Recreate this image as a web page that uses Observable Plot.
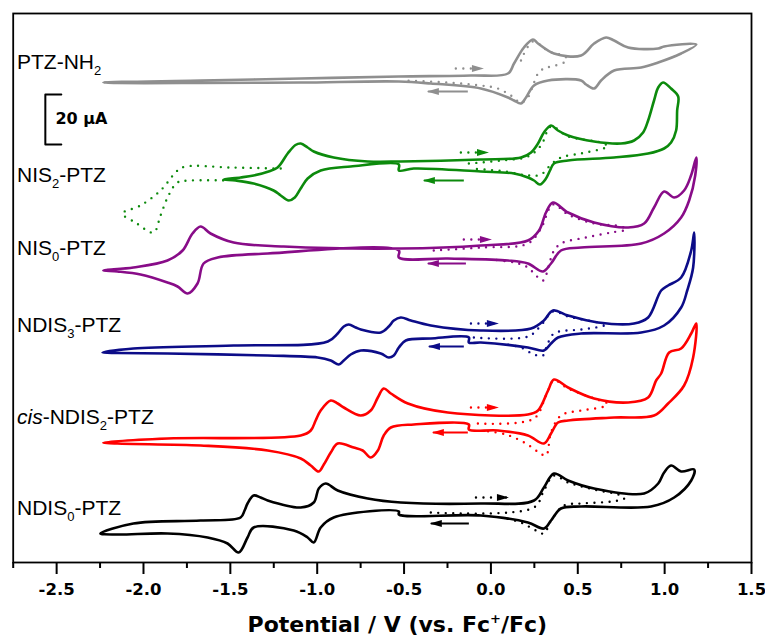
<!DOCTYPE html>
<html><head><meta charset="utf-8">
<script src="https://cdn.jsdelivr.net/npm/d3@7"></script>
<script src="https://cdn.jsdelivr.net/npm/@observablehq/plot@0.6"></script>
<style>html,body{margin:0;padding:0;background:#fff;} svg{display:block;background:#fff}</style>
</head><body><div id="chart"></div>
<script>
// ---------- axis / scale values ----------
const xDomain = [-2.75, 1.5];          // Potential / V
const yDomain = [0, 219.6];            // stacked current, µA (offset)
const majorTicks = [-2.5, -2.0, -1.5, -1.0, -0.5, 0.0, 0.5, 1.0, 1.5];
const minorTicks = [-2.75, -2.25, -1.75, -1.25, -0.75, -0.25, 0.25, 0.75, 1.25];
const xTitle = "Potential / V (vs. Fc^+/Fc)";

// ---------- compounds ----------
const compoundNames = ["PTZ-NH_2", "NIS_2-PTZ", "NIS_0-PTZ", "NDIS_3-PTZ", "*cis*-NDIS_2-PTZ", "NDIS_0-PTZ"];
const compoundColors = ["#8f8f8f", "#0c8a0c", "#880c88", "#0c0c88", "#ff0000", "#000000"];
const labelX = -2.728;
const labelY = [200.0, 155.0, 125.8, 94.8, 58.0, 21.8];

// ---------- CV loops [V, µA] (forward branch then reverse branch) ----------
const ptzNH2Scan = [
[-2.231,192.0],[-1.671,192.8],[-1.095,193.6],[-0.530,194.4],[-0.115,194.8],[0.098,195.6],[0.133,199.6],[0.190,206.0],[0.242,209.2],[0.271,207.6],[0.363,203.6],[0.519,202.8],[0.594,207.6],[0.663,210.0],[0.709,208.8],[0.790,206.0],[0.963,205.6],[0.997,206.4],[1.182,207.2],
[1.095,203.6],[0.963,200.0],[0.865,198.0],[0.709,196.8],[0.634,192.8],[0.594,189.6],[0.548,191.2],[0.519,192.8],[0.329,192.8],[0.248,190.8],[0.202,186.0],[0.173,183.6],[0.133,184.8],[0.098,186.0],[-0.058,189.6],[-0.346,191.6],[-0.530,192.4],[-1.095,192.0],[-1.671,191.8],[-2.150,191.8]];
const ptzNH2First = [
[0.173,200.8],[0.242,208.4],[0.334,204.4],[0.415,202.8],[0.438,201.6],[0.421,200.0],[0.346,198.4],[0.305,197.6],[0.271,195.6],[0.242,190.8],[0.213,186.0],[0.173,184.0],[0.115,186.8],[0.040,189.6],[-0.058,190.8],[-0.248,192.0],[-0.501,192.8]];

const nis2Scan = [
[-1.539,153.2],[-1.441,154.0],[-1.366,154.8],[-1.280,156.4],[-1.228,158.0],[-1.170,163.6],[-1.125,167.0],[-1.095,167.6],[-1.055,166.0],[-1.020,164.4],[-0.905,162.0],[-0.709,160.4],[-0.519,160.4],[-0.058,161.2],[0.173,162.0],[0.231,164.0],[0.271,167.6],[0.305,172.0],[0.346,174.8],[0.386,172.8],[0.444,170.8],[0.594,168.4],[0.749,167.6],[0.824,168.8],[0.876,172.0],[0.905,176.8],[0.939,184.8],[0.963,190.0],[0.991,192.0],[1.037,189.6],[1.078,186.4],
[1.072,180.8],[1.066,172.8],[1.037,168.0],[0.997,165.6],[0.905,163.6],[0.709,162.0],[0.444,160.8],[0.363,159.6],[0.340,156.8],[0.317,153.6],[0.282,151.2],[0.248,152.8],[0.213,154.0],[0.133,155.6],[-0.058,156.4],[-0.444,157.6],[-0.530,156.8],[-0.530,159.2],[-0.807,158.4],[-0.980,156.8],[-1.055,153.6],[-1.095,149.6],[-1.129,146.0],[-1.164,144.8],[-1.210,146.8],[-1.251,148.8],[-1.366,151.6],[-1.470,152.8]];
const nis2FirstA = [
[-1.210,157.6],[-1.499,158.0],[-1.758,158.4],[-1.804,156.8],[-1.902,148.8],[-2.017,142.8],[-2.121,139.6],[-2.046,136.0],[-1.942,132.0],[-1.902,138.8],[-1.856,146.8],[-1.804,152.0],[-1.729,152.8],[-1.516,152.8]];
const nis2FirstB = [
[-0.127,159.6],[0.058,160.8],[0.213,162.4],[0.288,166.8],[0.346,174.4],[0.444,170.4],[0.634,168.0],[0.674,166.4],[0.646,165.6],[0.519,163.6],[0.403,162.0],[0.346,159.2],[0.288,155.2],[0.213,154.8],[0.086,156.4],[-0.115,157.6]];

const nis0Scan = [
[-2.231,116.8],[-2.058,118.0],[-1.862,120.8],[-1.775,124.8],[-1.718,131.6],[-1.671,134.4],[-1.614,131.6],[-1.481,128.0],[-1.193,126.4],[-0.519,125.6],[-0.058,126.8],[0.213,128.8],[0.277,132.8],[0.317,140.0],[0.357,144.0],[0.444,140.0],[0.594,136.0],[0.790,134.0],[0.882,135.6],[0.939,142.0],[0.997,148.4],[1.055,146.0],[1.112,148.8],[1.153,155.0],[1.182,162.0],
[1.176,154.8],[1.141,144.8],[1.095,138.0],[0.997,131.6],[0.865,127.6],[0.519,126.0],[0.403,124.8],[0.346,119.6],[0.300,116.4],[0.213,119.6],[0.098,120.8],[-0.248,121.6],[-0.530,122.0],[-0.530,124.8],[-1.285,123.6],[-1.573,122.0],[-1.654,119.6],[-1.689,111.6],[-1.746,107.6],[-1.804,110.4],[-1.862,112.0],[-2.017,115.2],[-2.150,116.4]];
const nis0First = [
[-0.329,124.8],[-0.058,126.0],[0.213,127.6],[0.288,133.6],[0.357,143.2],[0.444,139.2],[0.594,135.6],[0.749,134.4],[0.778,133.2],[0.692,132.0],[0.548,130.0],[0.403,127.6],[0.357,124.0],[0.334,118.8],[0.300,112.8],[0.259,114.8],[0.213,118.0],[0.133,120.0],[0.000,121.2]];

const ndis3Scan = [
[-2.236,84.0],[-2.058,85.6],[-1.481,86.8],[-0.939,88.4],[-0.882,91.6],[-0.847,94.4],[-0.818,95.2],[-0.778,94.0],[-0.749,93.2],[-0.634,92.0],[-0.588,94.4],[-0.559,96.8],[-0.519,98.0],[-0.461,96.8],[-0.346,94.8],[-0.058,92.8],[0.231,93.6],[0.305,96.8],[0.357,100.8],[0.444,98.8],[0.617,96.0],[0.824,95.6],[0.905,98.0],[0.980,108.8],[1.020,110.8],[1.095,114.0],[1.153,124.8],[1.170,132.0],
[1.164,118.0],[1.130,108.8],[1.095,102.0],[0.997,94.8],[0.865,92.0],[0.519,91.6],[0.386,90.0],[0.346,87.6],[0.305,84.8],[0.213,86.0],[-0.058,88.0],[-0.127,88.0],[-0.127,90.0],[-0.346,89.6],[-0.490,88.8],[-0.530,86.0],[-0.559,82.8],[-0.588,82.0],[-0.634,83.6],[-0.749,84.8],[-0.807,83.2],[-0.847,80.8],[-0.876,79.2],[-0.922,80.8],[-0.997,82.0],[-1.285,82.8],[-1.862,83.6],[-2.150,83.8]];
const ndis3First = [
[-0.098,90.0],[0.213,90.4],[0.288,94.8],[0.357,100.4],[0.444,98.4],[0.617,96.0],[0.669,95.2],[0.634,94.4],[0.519,93.2],[0.363,91.6],[0.323,86.8],[0.300,82.8],[0.248,83.2],[0.173,86.0],[0.058,87.6]];

const cisScan = [
[-2.231,48.0],[-1.862,49.6],[-1.095,50.8],[-1.037,52.8],[-1.009,56.8],[-0.980,60.8],[-0.922,64.8],[-0.882,63.6],[-0.847,62.0],[-0.749,58.8],[-0.692,60.8],[-0.651,66.0],[-0.617,69.6],[-0.576,67.6],[-0.478,63.6],[-0.248,60.0],[0.213,59.2],[0.271,60.8],[0.329,68.8],[0.363,73.2],[0.444,70.0],[0.594,65.6],[0.790,64.0],[0.905,66.0],[0.951,72.8],[0.980,75.6],[1.026,84.0],[1.095,85.6],[1.153,91.6],[1.182,95.6],
[1.164,82.0],[1.112,70.8],[1.020,63.6],[0.939,58.8],[0.709,58.0],[0.444,56.8],[0.386,56.0],[0.346,51.6],[0.305,47.6],[0.213,50.8],[0.040,52.8],[-0.127,53.2],[-0.127,55.2],[-0.444,55.2],[-0.576,54.0],[-0.617,50.8],[-0.651,44.8],[-0.692,42.0],[-0.738,44.8],[-0.790,46.0],[-0.882,47.6],[-0.922,44.0],[-0.962,39.2],[-0.991,36.4],[-1.037,38.8],[-1.095,41.6],[-1.285,44.8],[-1.671,46.8],[-2.150,47.6]];
const cisFirst = [
[-0.075,55.6],[0.248,57.6],[0.317,66.8],[0.363,72.8],[0.444,69.6],[0.594,65.6],[0.669,63.6],[0.651,62.4],[0.519,60.8],[0.403,58.8],[0.346,52.0],[0.317,42.8],[0.277,44.0],[0.202,47.6],[0.086,51.2],[-0.058,52.8]];

const ndis0Scan = [
[-2.248,11.6],[-2.058,15.6],[-1.671,16.8],[-1.441,18.0],[-1.418,20.8],[-1.401,23.6],[-1.366,26.8],[-1.326,26.0],[-1.285,24.8],[-1.095,22.0],[-1.020,24.0],[-0.991,29.6],[-0.951,31.6],[-0.882,28.8],[-0.709,25.6],[-0.519,24.0],[-0.058,23.6],[0.248,24.8],[0.305,30.0],[0.363,35.6],[0.444,32.8],[0.594,29.6],[0.882,27.6],[0.963,31.6],[0.997,36.0],[1.037,38.8],[1.095,36.4],[1.170,37.2],
[1.153,32.8],[1.055,26.0],[0.922,22.4],[0.519,22.4],[0.403,21.6],[0.346,16.8],[0.305,13.6],[0.213,16.0],[-0.058,18.8],[-0.530,19.2],[-0.530,20.4],[-0.905,18.0],[-0.980,14.0],[-1.020,8.0],[-1.055,10.0],[-1.135,12.8],[-1.366,14.0],[-1.401,10.0],[-1.452,4.0],[-1.516,7.6],[-1.631,10.0],[-1.862,11.6],[-2.150,11.2]];
const ndis0First = [
[-0.346,20.0],[0.248,22.0],[0.305,28.8],[0.363,34.8],[0.444,32.0],[0.594,29.2],[0.749,26.8],[0.767,25.6],[0.692,24.4],[0.519,23.6],[0.421,22.8],[0.346,16.8],[0.305,11.6],[0.259,12.8],[0.173,16.0],[0.086,17.6]];

// ---------- scan-direction arrows (V, µA) ----------
const arrowDottedFrom = [-0.202, -0.173, -0.156, -0.115, -0.115, -0.086];
const arrowDottedTo   = [-0.046, -0.017,  0.000,  0.040,  0.040,  0.098];
const arrowDottedY    = [197.6, 164.0, 129.2, 95.6, 62.0, 26.0];
const arrowSolidFrom  = [-0.133, -0.156, -0.144, -0.156, -0.133, -0.127];
const arrowSolidTo    = [-0.363, -0.386, -0.363, -0.357, -0.334, -0.346];
const arrowSolidY     = [188.4, 152.8, 119.6, 86.4, 52.0, 15.6];

// ---------- scale bar ----------
const scaleBarX = -2.565, scaleBarTickEnd = -2.473, scaleBarTop = 187.2, scaleBarSpan = 20;
const scaleBarText = "20 µA", scaleBarTextX = -2.507, scaleBarTextY = 177.6;

// ---------- build ----------
const scans = [ptzNH2Scan, nis2Scan, nis0Scan, ndis3Scan, cisScan, ndis0Scan];
const firsts = [[ptzNH2First], [nis2FirstA, nis2FirstB], [nis0First], [ndis3First], [cisFirst], [ndis0First]];

const arrowHead = {draw(ctx) { ctx.moveTo(1, 0); ctx.lineTo(-11, -3.6); ctx.lineTo(-11, 3.6); ctx.closePath(); }};
const X = d => d[0], Y = d => d[1];

const marks = [Plot.frame({stroke: "black", strokeWidth: 1.8})];
scans.forEach((scan, i) => {
  marks.push(Plot.line(scan, {x: X, y: Y, stroke: compoundColors[i], strokeWidth: 2.6, curve: "catmull-rom-closed"}));
  firsts[i].forEach(f => marks.push(Plot.line(f, {x: X, y: Y, stroke: compoundColors[i], strokeWidth: 2.4,
    strokeDasharray: "0 7.5", strokeLinecap: "round", curve: "catmull-rom"})));
});
const arrows = compoundColors.map((c, i) => ({c, df: arrowDottedFrom[i], dt: arrowDottedTo[i], dy: arrowDottedY[i],
  sf: arrowSolidFrom[i], st: arrowSolidTo[i], sy: arrowSolidY[i]}));
marks.push(
  Plot.link(arrows, {x1: "df", x2: "dt", y1: "dy", y2: "dy", stroke: "c", strokeWidth: 2.4, strokeDasharray: "0 7.5", strokeLinecap: "round"}),
  Plot.dot(arrows, {x: "dt", y: "dy", symbol: arrowHead, fill: "c", r: 5}),
  Plot.link(arrows, {x1: "sf", x2: "st", y1: "sy", y2: "sy", stroke: "c", strokeWidth: 1.8}),
  Plot.dot(arrows, {x: "st", y: "sy", symbol: arrowHead, fill: "c", r: 5, rotate: 180}),
  Plot.text(compoundNames, {x: labelX, y: (d, i) => labelY[i], text: d => d, textAnchor: "start", lineAnchor: "middle",
    fontSize: 21, fontFamily: "Liberation Sans, Arial, sans-serif", fill: "black"}),
  Plot.line([[scaleBarTickEnd, scaleBarTop], [scaleBarX, scaleBarTop], [scaleBarX, scaleBarTop - scaleBarSpan], [scaleBarTickEnd, scaleBarTop - scaleBarSpan]],
    {x: X, y: Y, stroke: "black", strokeWidth: 2}),
  Plot.text([scaleBarText], {x: scaleBarTextX, y: scaleBarTextY, text: d => d, textAnchor: "start", lineAnchor: "middle",
    fontSize: 16, fontWeight: "bold", fontFamily: "DejaVu Sans, sans-serif", fill: "black"}),
  Plot.axisX(majorTicks, {anchor: "bottom", tickSize: 12, tickPadding: 9, tickFormat: d => d.toFixed(1), label: null,
    strokeWidth: 2, stroke: "black", fill: "black", fontSize: 16.5, fontWeight: "bold", fontFamily: "DejaVu Sans, sans-serif"}),
  Plot.axisX(minorTicks, {anchor: "bottom", tickSize: 6, tickFormat: () => "", label: null, strokeWidth: 2, stroke: "black"}),
  Plot.text([xTitle], {frameAnchor: "bottom", dx: 15, dy: 62, text: d => d, lineAnchor: "middle", textAnchor: "middle",
    fontSize: 22, fontWeight: "bold", fontFamily: "DejaVu Sans, sans-serif", fill: "black"})
);

const plot = Plot.plot({
  width: 765, height: 638,
  marginLeft: 12.7, marginRight: 14, marginTop: 13, marginBottom: 76,
  x: {domain: xDomain},
  y: {domain: yDomain, axis: null},
  color: {type: "identity"},
  style: {background: "white", color: "black"},
  marks
});
document.getElementById("chart").append(plot);

// rich text: _d subscript, ^+ superscript, *..* italic
function rich(node, markup, subSize, subShift, supSize, supShift) {
  const s = d3.select(node);
  s.text(null);
  const tokens = markup.split(/(\*[^*]+\*|_[0-9]|\^\+)/).filter(t => t.length);
  let cur = 0;
  for (const t of tokens) {
    let txt = t, target = 0, size = null, italic = false;
    if (t[0] === "*") { txt = t.slice(1, -1); italic = true; }
    else if (t[0] === "_") { txt = t.slice(1); target = subShift; size = subSize; }
    else if (t[0] === "^") { txt = t.slice(1); target = -supShift; size = supSize; }
    const ts = s.append("tspan").text(txt);
    if (target !== cur) { ts.attr("dy", target - cur); cur = target; }
    if (size) ts.attr("font-size", size);
    if (italic) ts.attr("font-style", "italic");
  }
}
d3.select(plot).selectAll("text").each(function() {
  const t = this.textContent;
  if (t.includes("^")) rich(this, t, 13, 6, 13, 9);
  else if (/[_*]/.test(t)) rich(this, t, 13, 6, 13, 8);
});
</script>
</body></html>
